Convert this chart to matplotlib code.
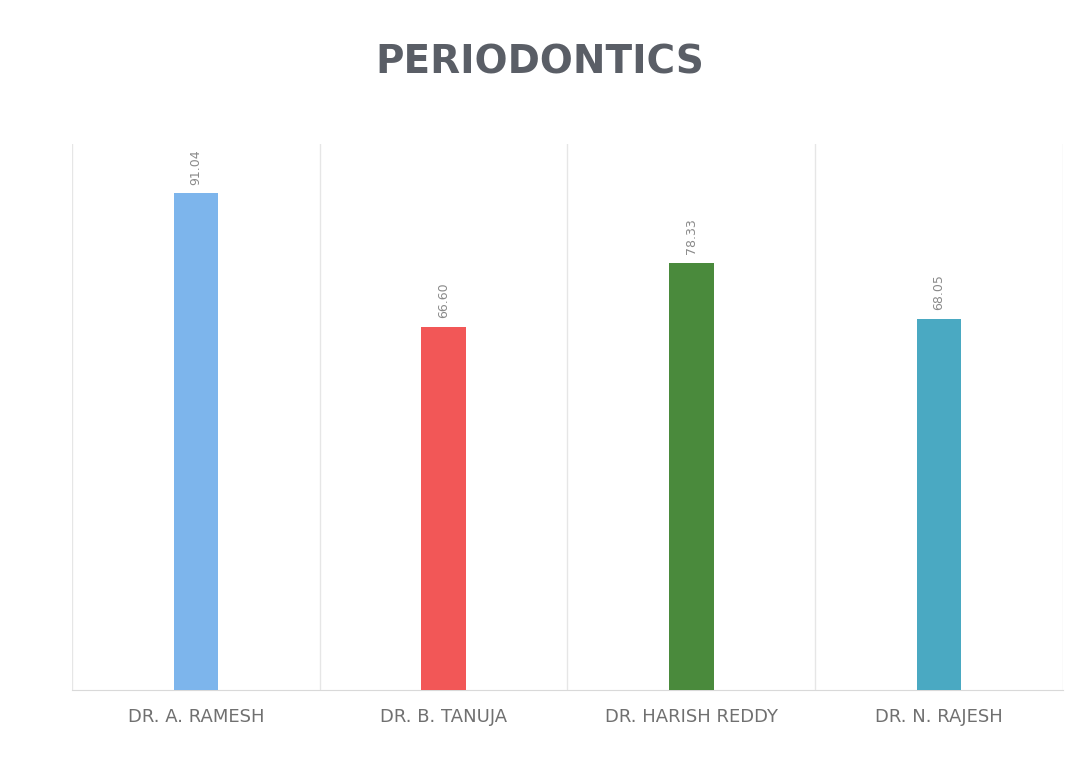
import matplotlib.pyplot as plt
import numpy as np

# data
doctors = ["DR. A. RAMESH", "DR. B. TANUJA", "DR. HARISH REDDY", "DR. N. RAJESH"]
scores = [91.04, 66.60, 78.33, 68.05]
colors = ["#7db5ec", "#f25757", "#4a8a3c", "#4aa9c2"]

fig = plt.figure(figsize=(10.67, 7.58), dpi=100)
ax = fig.add_axes([0.0675, 0.0897, 0.9285, 0.72])

x = np.arange(len(doctors))
bars = ax.bar(x, scores, width=0.18, color=colors, zorder=3)

for b, v in zip(bars, scores):
    ax.text(b.get_x() + b.get_width() / 2, v + 1.5, "%.2f" % v,
            rotation=90, ha="center", va="bottom", fontsize=9, color="#8a8a8a")

ax.set_xlim(-0.5, len(doctors) - 0.5)
ax.set_ylim(0, 100)
ax.set_yticks([])
ax.set_xticks(x)
ax.set_xticklabels(doctors, fontsize=13, color="#707070")
ax.tick_params(axis="x", length=0, pad=13)

# light separators between categories
for b in np.arange(-0.5, len(doctors), 1.0):
    ax.axvline(b, color="#e6e6e6", lw=1, zorder=1)

for s in ["top", "right", "left"]:
    ax.spines[s].set_visible(False)
ax.spines["bottom"].set_color("#d9d9d9")

fig.text(0.506, 0.918, "PERIODONTICS", ha="center", va="center",
         fontsize=28, fontweight="bold", color="#5a5e66")

fig.savefig("out.png", dpi=100)
